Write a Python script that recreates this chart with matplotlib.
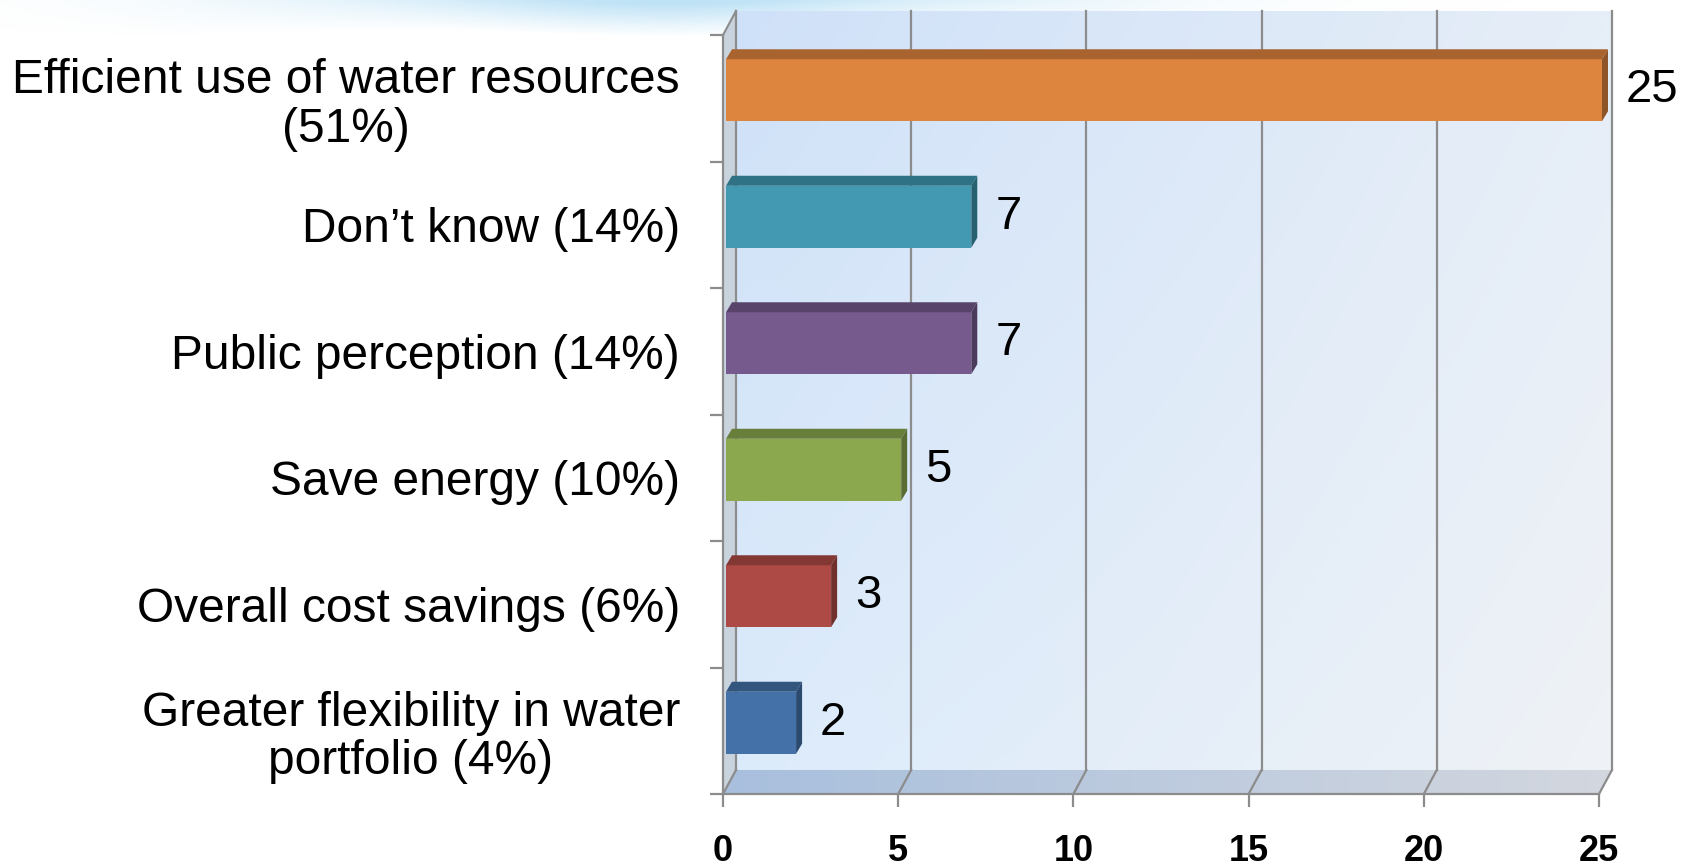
import numpy as np
import matplotlib
matplotlib.use("Agg")
import matplotlib.pyplot as plt
from matplotlib.patches import Polygon
from matplotlib.colors import to_rgb

# ---------------- data ----------------
categories = [
    "Greater flexibility in water\nportfolio (4%)",
    "Overall cost savings (6%)",
    "Save energy (10%)",
    "Public perception (14%)",
    "Don\u2019t know (14%)",
    "Efficient use of water resources\n(51%)",
]
values = [2, 3, 5, 7, 7, 25]
front_colors = ["#4472A8", "#AE4A45", "#8BA84F", "#765A8E", "#4399B2", "#DD843F"]
top_colors = ["#33567F", "#833834", "#687E3B", "#58436B", "#2F7285", "#A8632F"]
side_colors = ["#2B4A6E", "#70302C", "#5A6D33", "#4B3A5C", "#276170", "#8F552A"]
xticks = [0, 5, 10, 15, 20, 25]

plt.rcParams['font.family'] = ['Liberation Sans', 'DejaVu Sans']

W, H = 1687, 868
fig = plt.figure(figsize=(W / 100, H / 100), dpi=100)
fig.patch.set_facecolor("white")

# decorative swoosh at the top
sw = fig.add_axes([0, 1 - 40 / H, 1, 40 / H], zorder=0)
sw.set_axis_off()
xs = np.linspace(0, 1, 400)
ys = np.linspace(0, 1, 40)
X, Y = np.meshgrid(xs, ys)
alpha_x = np.exp(-((X - 0.40) / 0.22) ** 2)
alpha = alpha_x * np.clip(1 - Y * 1.2 + 0.1 * np.sin(X * 20), 0, 1) * 0.75
img = np.zeros((40, 400, 4))
img[..., :3] = to_rgb("#a9d9f3")
img[..., 3] = alpha
sw.imshow(img, aspect="auto", extent=(0, 1, 0, 1), origin="upper")

# ---------------- main axes ----------------
x0_px, floor_px, top_px = 723, 794, 11
px_per_unit = 35.04
cat_px = 126.4
DX = 13 / px_per_unit
DY = 24 / cat_px
ax_w = (25 * px_per_unit + 13 + 2) / W
ax = fig.add_axes([x0_px / W, (H - floor_px) / H, ax_w, (floor_px - top_px) / H], zorder=1)
ax.patch.set_visible(False)
xmax = 25 + DX + 2 / px_per_unit
ax.set_xlim(0, xmax)
ax.set_ylim(-0.5, 5.5 + DY)

grid_c = "#8c8c8c"

# back wall gradient
n = 200
gx = np.linspace(0, 1, n)[None, :]
gy = np.linspace(0, 1, n)[:, None]
tl, tr = np.array(to_rgb("#cfe1f8")), np.array(to_rgb("#e6eef8"))
bl, br = np.array(to_rgb("#dcebfb")), np.array(to_rgb("#eff2f6"))
wall = ((1 - gx)[..., None] * (1 - gy)[..., None] * tl + gx[..., None] * (1 - gy)[..., None] * tr
        + (1 - gx)[..., None] * gy[..., None] * bl + gx[..., None] * gy[..., None] * br)
ax.imshow(wall, extent=(DX, 25 + DX, -0.5 + DY, 5.5 + DY), aspect="auto",
          origin="upper", zorder=0, interpolation="bilinear")

# floor gradient
floor = Polygon([(0, -0.5), (25, -0.5), (25 + DX, -0.5 + DY), (DX, -0.5 + DY)],
                closed=True, facecolor="none", edgecolor="none")
ax.add_patch(floor)
fl = np.linspace(0, 1, n)[None, :, None]
fgrad = (1 - fl) * np.array(to_rgb("#a8bfdd")) + fl * np.array(to_rgb("#d3d7df"))
fgrad = np.repeat(fgrad, 4, axis=0)
fim = ax.imshow(fgrad, extent=(0, 25 + DX, -0.5, -0.5 + DY), aspect="auto", zorder=0.5)
fim.set_clip_path(floor)

# left wall
ax.add_patch(Polygon([(0, -0.5), (0, 5.5), (DX, 5.5 + DY), (DX, -0.5 + DY)],
                     closed=True, facecolor="#c9d3de", edgecolor="none", zorder=0.6))
ax.plot([0, DX], [5.5, 5.5 + DY], color=grid_c, lw=1.5, zorder=0.7, clip_on=False)

# gridlines on back wall and floor
for k in xticks:
    ax.plot([k + DX, k + DX], [-0.5 + DY, 5.5 + DY], color=grid_c, lw=1.6, zorder=0.7, clip_on=False)
    ax.plot([k, k + DX], [-0.5, -0.5 + DY], color=grid_c, lw=1.6, zorder=0.7, clip_on=False)

# ---------------- bars ----------------
BX = 3 / px_per_unit
BY = 8 / cat_px
bh = 0.49
TDX = 6 / px_per_unit
TDY = 10 / cat_px
ypos = np.arange(len(values))
ax.barh(ypos + BY, values, height=bh, left=BX, color=front_colors, zorder=3)
for i, v in enumerate(values):
    yb = i + BY - bh / 2
    yt = i + BY + bh / 2
    xe = v + BX
    ax.add_patch(Polygon([(BX, yt), (xe, yt), (xe + TDX, yt + TDY), (BX + TDX, yt + TDY)],
                         closed=True, facecolor=top_colors[i], edgecolor="none", zorder=3))
    ax.add_patch(Polygon([(xe, yb), (xe, yt), (xe + TDX, yt + TDY), (xe + TDX, yb + TDY)],
                         closed=True, facecolor=side_colors[i], edgecolor="none", zorder=3))
    ax.text(xe + 24 / px_per_unit, i + BY, str(v), ha="left", va="center",
            fontsize=34, color="black", zorder=4, clip_on=False)

# ---------------- axes styling ----------------
for s in ["top", "right"]:
    ax.spines[s].set_visible(False)
ax.spines["left"].set_bounds(-0.5, 5.5)
ax.spines["bottom"].set_bounds(0, 25)
for s in ["left", "bottom"]:
    ax.spines[s].set_color(grid_c)
    ax.spines[s].set_linewidth(1.6)
    ax.spines[s].set_zorder(5)

ax.set_xticks(xticks)
ax.set_xticklabels([str(t) for t in xticks])
ax.tick_params(axis="x", direction="out", length=9.5, width=1.6, color=grid_c, pad=19)
for lab in ax.get_xticklabels():
    lab.set_fontfamily(['Liberation Sans Narrow', 'Liberation Sans', 'DejaVu Sans'])
    lab.set_fontweight("bold")
    lab.set_fontsize(26)

ax.set_yticks(np.arange(-0.5, 6.0, 1.0))
ax.set_yticklabels([])
ax.tick_params(axis="y", which="major", direction="out", length=9.5, width=1.6, color=grid_c)
ax.set_yticks(ypos, minor=True)
ax.set_yticklabels(categories, minor=True)
ax.tick_params(axis="y", which="minor", length=0, pad=31, labelsize=34.5)
for lab in ax.get_yticklabels(minor=True):
    lab.set_multialignment("center")
    lab.set_linespacing(1.1)

fig.savefig("out.png", dpi=100)
